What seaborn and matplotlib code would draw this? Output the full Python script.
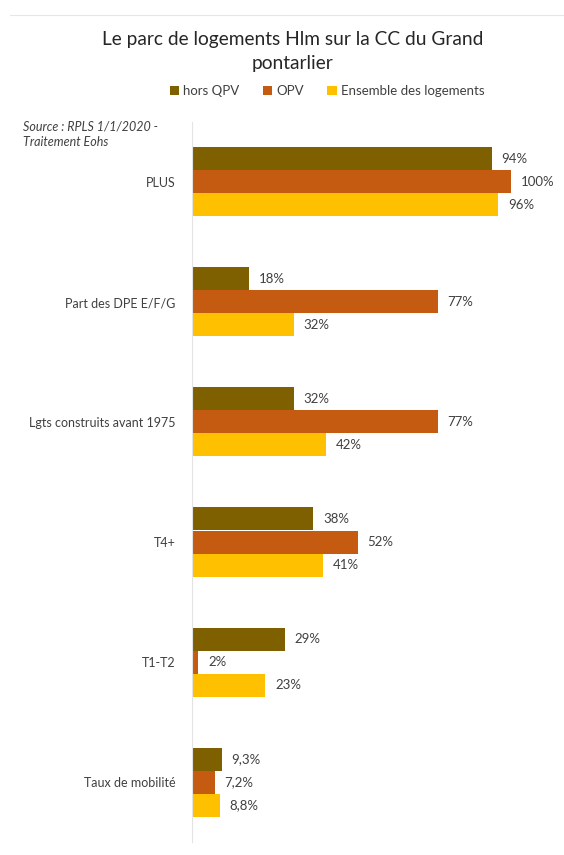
import pandas as pd
import matplotlib.pyplot as plt
import seaborn as sns

# --- Data ---
categories = [
    "PLUS",
    "Part des DPE E/F/G",
    "Lgts construits avant 1975",
    "T4+",
    "T1-T2",
    "Taux de mobilité",
]
hors_qpv = [94, 18, 32, 38, 29, 9.3]
opv = [100, 77, 77, 52, 2, 7.2]
ensemble = [96, 32, 42, 41, 23, 8.8]
series_names = ["hors QPV", "OPV", "Ensemble des logements"]
colors = ["#7F6000", "#C55A11", "#FFC000"]

df = pd.DataFrame({"Categorie": categories,
                   series_names[0]: hors_qpv,
                   series_names[1]: opv,
                   series_names[2]: ensemble})
long_df = df.melt(id_vars="Categorie", var_name="Serie", value_name="Valeur")

sns.set_theme(style="white")
plt.rcParams["font.family"] = ["Lato", "DejaVu Sans"]

fig = plt.figure(figsize=(5.64, 8.55), dpi=100)
ax = fig.add_axes([192 / 564, 1 - 842 / 855, 319 / 564, 720 / 855])

sns.barplot(data=long_df, x="Valeur", y="Categorie", hue="Serie",
            order=categories, hue_order=series_names,
            palette=colors, orient="h", width=0.575, gap=0,
            saturation=1, linewidth=0, ax=ax, legend=True)

# value labels, french decimal comma
def fmt(v):
    return f"{v:g}%".replace(".", ",")

for cont, vals in zip(ax.containers, [hors_qpv, opv, ensemble]):
    ax.bar_label(cont, labels=[fmt(v) for v in vals], padding=7,
                 fontsize=9.5, color="#404040")

ax.set_xlim(0, 100)
ax.set_ylim(5.5, -0.5)
ax.set_xlabel("")
ax.set_ylabel("")
ax.set_xticks([])
ax.tick_params(axis="y", length=0, pad=12, labelsize=9, labelcolor="#404040")
for s in ["top", "right", "bottom"]:
    ax.spines[s].set_visible(False)
ax.spines["left"].set_color("#e3e3e3")
ax.spines["left"].set_linewidth(0.8)

# legend at the top
handles, labels = ax.get_legend_handles_labels()
ax.get_legend().remove()
fig.legend(handles, labels, loc="center", bbox_to_anchor=(327 / 564, 1 - 91 / 855),
           ncol=3, frameon=False, fontsize=9.5, handlelength=0.7,
           handleheight=0.7, handletextpad=0.3, columnspacing=1.8,
           labelcolor="#404040")

fig.text(293 / 564, 1 - 40 / 855, "Le parc de logements Hlm sur la CC du Grand",
         ha="center", va="center", fontsize=13.8, color="#262626")
fig.text(293 / 564, 1 - 63 / 855, "pontarlier",
         ha="center", va="center", fontsize=13.8, color="#262626")
fig.text(23 / 564, 1 - 134 / 855, "Source : RPLS 1/1/2020 -\nTraitement Eohs",
         ha="left", va="center", fontsize=9, style="italic", color="#404040",
         linespacing=1.3)

# faint top border of the chart area
fig.add_artist(plt.Line2D([10 / 564, 1], [1 - 15 / 855, 1 - 15 / 855],
                          color="#e6e6e6", linewidth=0.8))

plt.savefig("out.png", dpi=100)
